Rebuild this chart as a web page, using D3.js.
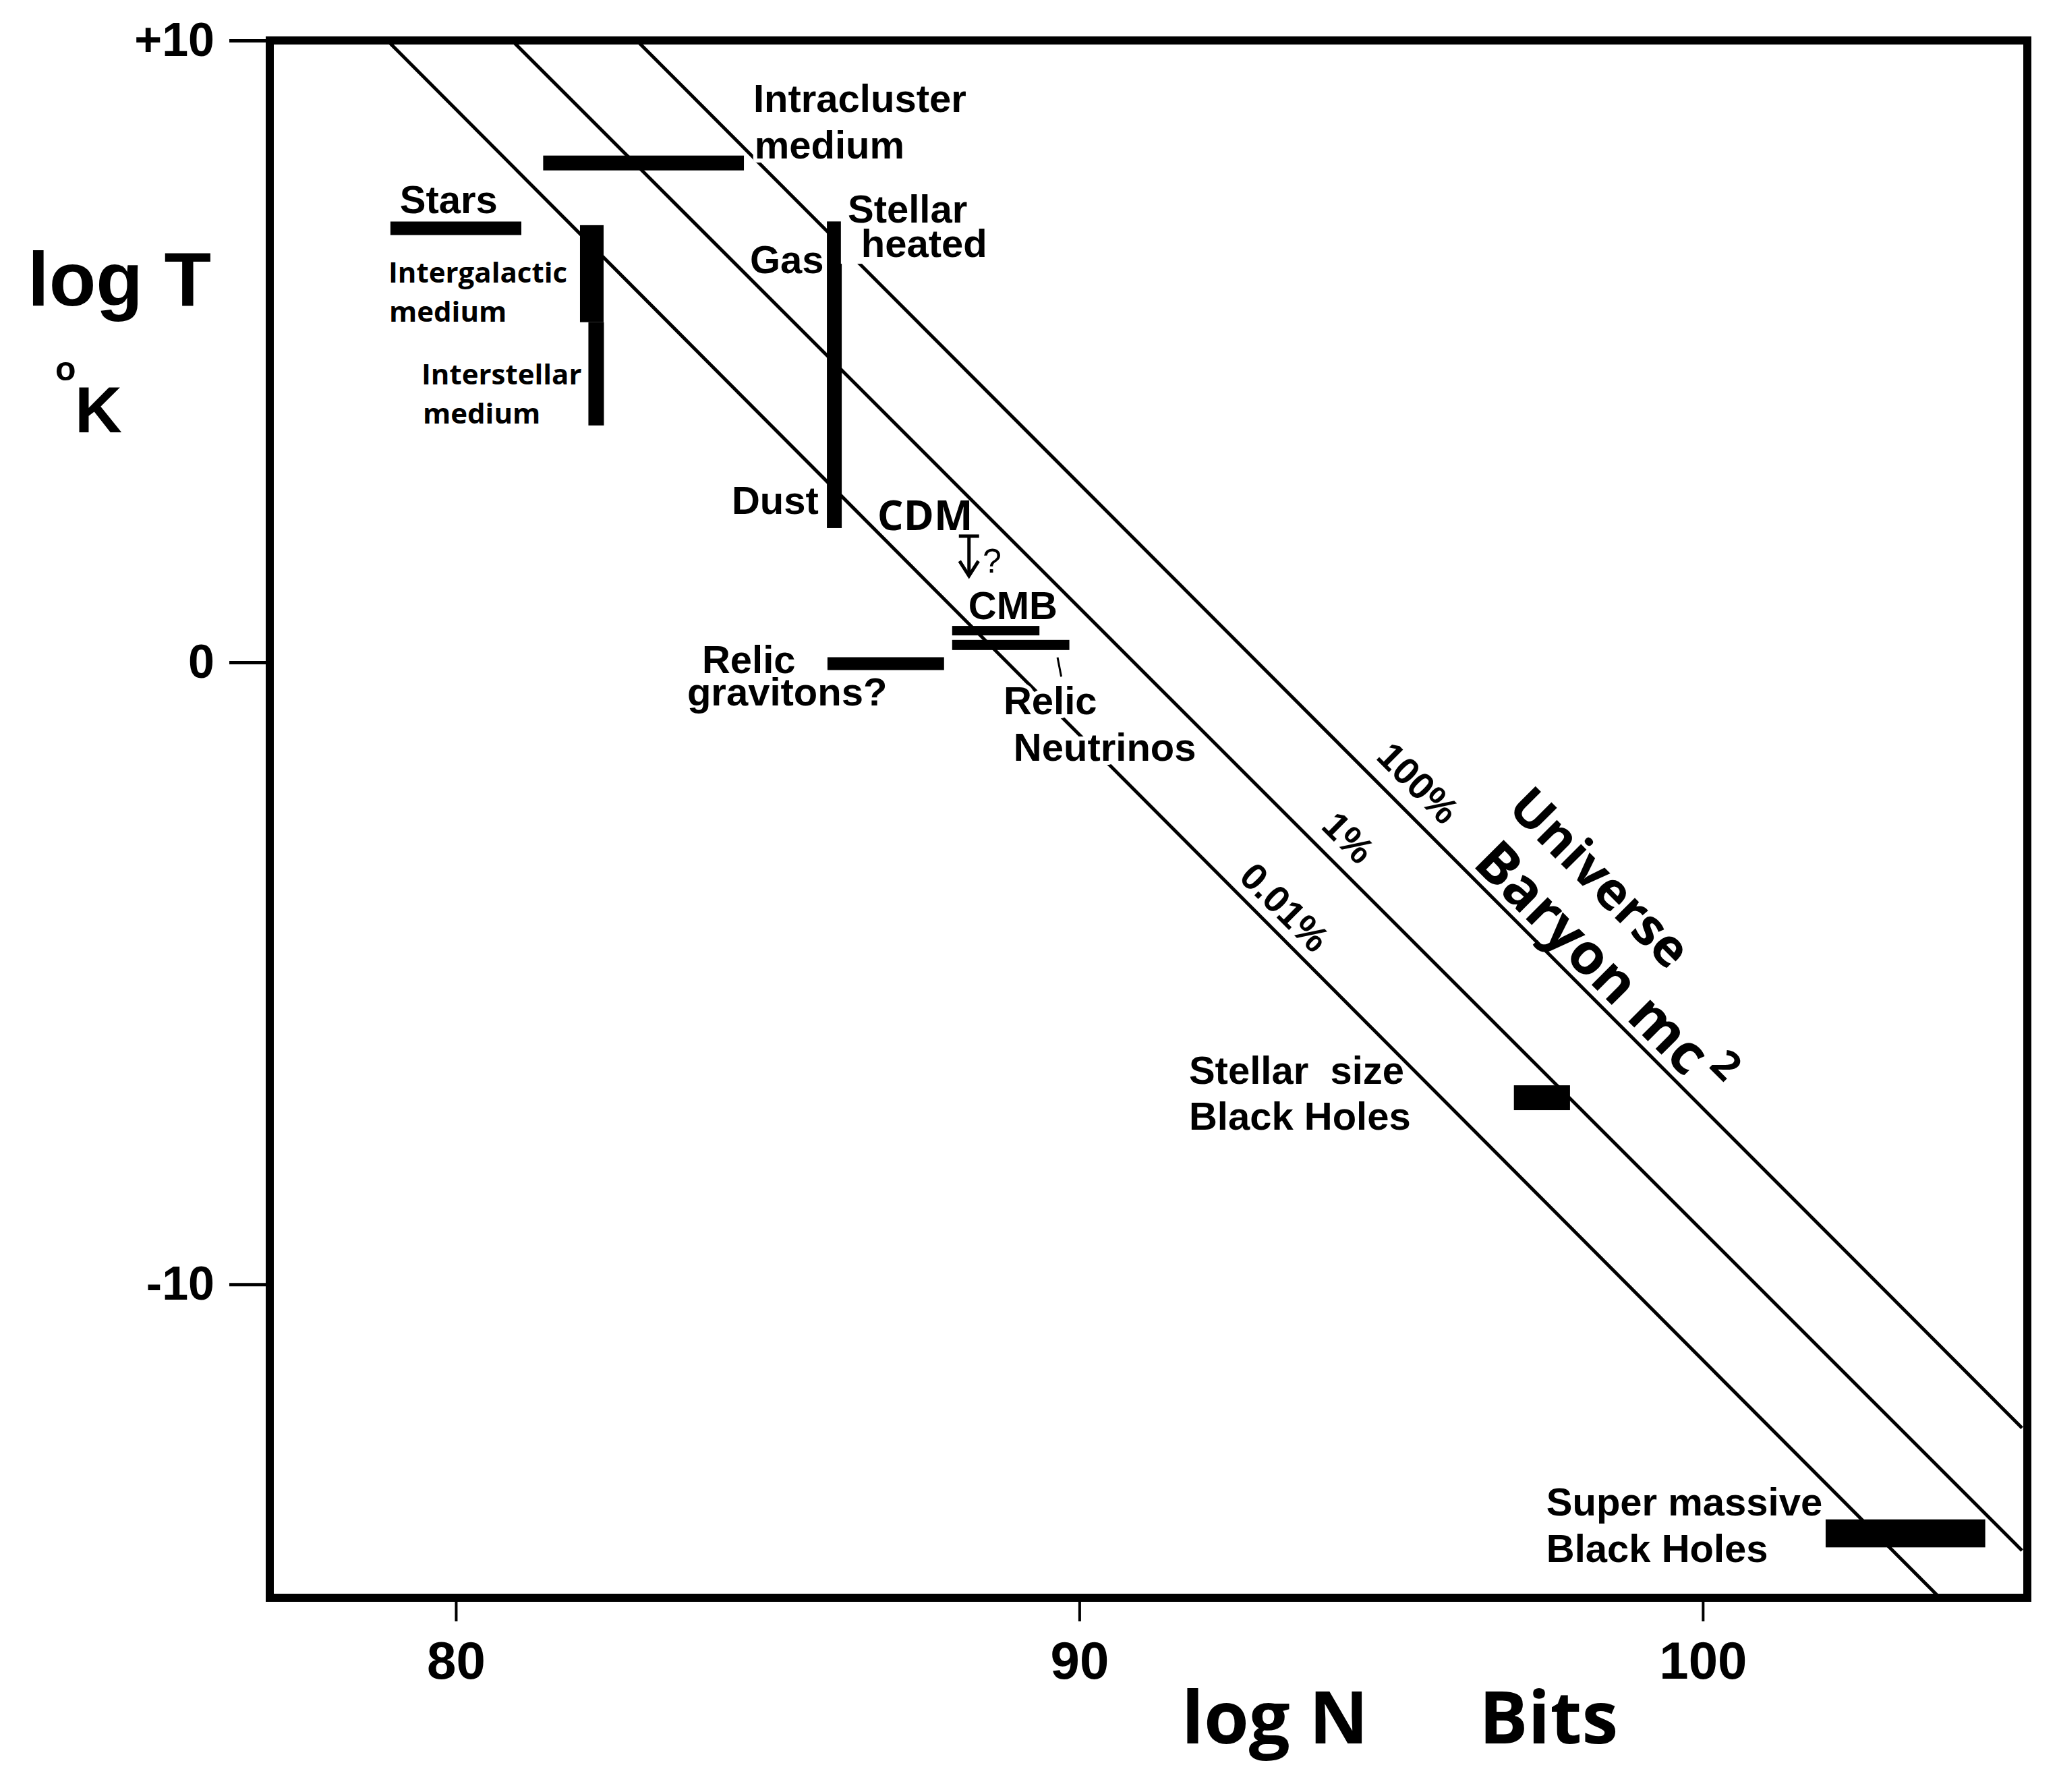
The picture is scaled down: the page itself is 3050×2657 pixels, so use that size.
<!DOCTYPE html>
<html><head><meta charset="utf-8">
<script src="https://cdn.jsdelivr.net/npm/d3@7"></script>
<style>
html,body{margin:0;padding:0;background:#fff;}
svg{display:block;}
</style></head><body>
<svg id="chart" width="3050" height="2657"></svg>
<script>
// ---------------- data ----------------
const xTickValues = [80, 90, 100];
const yTickValues = [10, 0, -10];
const yTickLabels = ["+10", "0", "-10"];

// diagonal lines of constant energy fraction (log N, log T at both ends)
const lineNames  = ["100%", "1%", "0.01%"];
const lineStartN = [82.90, 80.90, 78.90];
const lineStartT = [10, 10, 10];
const lineEndN   = [105.12, 105.12, 103.80];
const lineEndT   = [-12.31, -14.28, -15.04];

// horizontal bars: log N range at a given log T
const hBarNames = ["Intracluster medium", "Stars", "Relic gravitons", "CMB", "Relic neutrinos"];
const hBarN0 = [81.40, 78.95, 85.96, 87.96, 87.96];
const hBarN1 = [84.62, 81.05, 87.83, 89.36, 89.84];
const hBarT  = [8.03, 6.98, -0.02, 0.51, 0.28];

// vertical bars: log T range at a given log N
const vBarNames = ["Intergalactic medium", "Interstellar medium", "Stellar heated gas / dust"];
const vBarN  = [82.18, 82.25, 86.07];
const vBarT0 = [7.03, 5.47, 7.09];
const vBarT1 = [5.47, 3.81, 2.16];

// black hole boxes
const boxNames = ["Stellar size black holes", "Super massive black holes"];
const boxN0 = [96.97, 101.97];
const boxN1 = [97.87, 104.53];
const boxT0 = [-6.80, -13.78];
const boxT1 = [-7.20, -14.23];

// CDM upper-limit arrow and relic neutrino pointer
const cdmArrowN = 88.23, cdmArrowT0 = 2.03, cdmArrowT1 = 1.39;
const pointerN = [89.65, 89.71], pointerT = [0.08, -0.23];

// text annotations (anchor in log N / log T)
const labelText = ["Stars", "Intergalactic", "medium", "Interstellar", "medium",
  "Intracluster", "medium", "Stellar", "heated", "Gas", "Dust", "CDM", "?", "CMB",
  "Relic", "gravitons?", "Relic", "Neutrinos", "Stellar  size", "Black Holes",
  "Super massive", "Black Holes"];
const labelN = [79.10, 78.918, 78.929, 79.448, 79.47,
  84.77, 84.79, 86.285, 86.50, 84.716, 84.424, 86.76, 88.448, 88.22,
  83.948, 83.71, 88.783, 88.945, 91.758, 91.758,
  97.49, 97.49];
const labelT = [7.22, 6.106, 5.477, 4.469, 3.839,
  8.85, 8.102, 7.07, 6.518, 6.258, 2.386, 2.126, 1.443, 0.694,
  -0.174, -0.694, -0.835, -1.583, -6.779, -7.516,
  -13.72, -14.469];
const labelKind = ["b", "s", "s", "s", "s",
  "b", "bh", "bh", "bh", "b", "b", "c", "q", "b",
  "b", "b", "bh", "bh", "b", "b",
  "b", "b"];

// rotated labels along the diagonals
const diagText = ["100%", "1%", "0.01%", "Universe", "Baryon mc"];
const diagN = [94.738, 93.858, 92.539, 96.847, 96.29];
const diagT = [-1.538, -2.655, -3.478, -2.364, -3.254];
const diagKind = ["p", "p", "p", "u", "y"];

// ---------------- layout / styles ----------------
const W = 3050, H = 2657;
const plot = {left: 400, right: 3006, top: 60, bottom: 2369};
const ARIAL = "'Liberation Sans', Arial, sans-serif";
const OPEN = "'Open Sans', 'Noto Sans', sans-serif";
const hBarThick = [22, 20, 19, 14, 15];
const vBarWidth = [35, 23, 22];
const kindStyle = {
  b:  {font: ARIAL, size: 58, weight: 700, halo: false},
  bh: {font: ARIAL, size: 58, weight: 700, halo: true},
  s:  {font: OPEN, size: 42, weight: 700, halo: false},
  c:  {font: OPEN, size: 61, weight: 700, halo: false},
  q:  {font: ARIAL, size: 50, weight: 400, halo: false},
  p:  {font: ARIAL, size: 56, weight: 700, halo: false},
  u:  {font: OPEN, size: 77, weight: 700, halo: false},
  y:  {font: OPEN, size: 84, weight: 700, halo: false}
};

const svg = d3.select("#chart");
svg.append("rect").attr("width", W).attr("height", H).attr("fill", "#fff");

const x = d3.scaleLinear().domain([77.015, 105.205]).range([plot.left, plot.right]);
const y = d3.scaleLinear().domain([10, -15.04]).range([plot.top, plot.bottom]);

svg.append("clipPath").attr("id", "plotClip").append("rect")
  .attr("x", plot.left).attr("y", plot.top)
  .attr("width", plot.right - plot.left).attr("height", plot.bottom - plot.top);

// diagonal lines
const lineGen = d3.line().x(d => x(d[0])).y(d => y(d[1]));
svg.append("g").attr("clip-path", "url(#plotClip)")
  .selectAll("path").data(lineNames.map((n, i) => [[lineStartN[i], lineStartT[i]], [lineEndN[i], lineEndT[i]]]))
  .join("path").attr("d", lineGen).attr("fill", "none").attr("stroke", "#000").attr("stroke-width", 5);

// bars
const marks = svg.append("g");
marks.selectAll("rect.h").data(hBarNames.map((n, i) => i)).join("rect").attr("class", "h")
  .attr("x", i => x(hBarN0[i])).attr("width", i => x(hBarN1[i]) - x(hBarN0[i]))
  .attr("y", i => y(hBarT[i]) - hBarThick[i] / 2).attr("height", i => hBarThick[i]).attr("fill", "#000");
marks.selectAll("rect.v").data(vBarNames.map((n, i) => i)).join("rect").attr("class", "v")
  .attr("x", i => x(vBarN[i]) - vBarWidth[i] / 2).attr("width", i => vBarWidth[i])
  .attr("y", i => y(vBarT0[i])).attr("height", i => y(vBarT1[i]) - y(vBarT0[i])).attr("fill", "#000");
marks.selectAll("rect.b").data(boxNames.map((n, i) => i)).join("rect").attr("class", "b")
  .attr("x", i => x(boxN0[i])).attr("width", i => x(boxN1[i]) - x(boxN0[i]))
  .attr("y", i => y(boxT0[i])).attr("height", i => y(boxT1[i]) - y(boxT0[i])).attr("fill", "#000");

// CDM arrow
const ax = x(cdmArrowN), ay0 = y(cdmArrowT0), ay1 = y(cdmArrowT1);
const arrow = marks.append("g").attr("stroke", "#000").attr("stroke-width", 5).attr("fill", "none");
arrow.append("line").attr("x1", ax - 15).attr("x2", ax + 15).attr("y1", ay0).attr("y2", ay0);
arrow.append("line").attr("x1", ax).attr("x2", ax).attr("y1", ay0).attr("y2", ay1);
arrow.append("path").attr("d", `M${ax - 14},${ay1 - 22}L${ax},${ay1}L${ax + 14},${ay1 - 22}`);
// neutrino pointer
marks.append("line").attr("x1", x(pointerN[0])).attr("y1", y(pointerT[0]))
  .attr("x2", x(pointerN[1])).attr("y2", y(pointerT[1])).attr("stroke", "#000").attr("stroke-width", 3);

// frame
svg.append("rect").attr("x", plot.left).attr("y", plot.top)
  .attr("width", plot.right - plot.left).attr("height", plot.bottom - plot.top)
  .attr("fill", "none").attr("stroke", "#000").attr("stroke-width", 12);

// axes
const yAxis = d3.axisLeft(y).tickValues(yTickValues).tickSize(60).tickPadding(22)
  .tickFormat((d, i) => yTickLabels[i]);
const gy = svg.append("g").attr("transform", `translate(${plot.left},0)`).call(yAxis);
gy.select(".domain").remove();
gy.selectAll(".tick line").attr("stroke", "#000").attr("stroke-width", 5);
gy.selectAll(".tick text").attr("font-family", ARIAL).attr("font-weight", 700)
  .attr("font-size", 70).attr("fill", "#000");

const xAxis = d3.axisBottom(x).tickValues(xTickValues).tickSize(35).tickPadding(30)
  .tickFormat(d3.format("d"));
const gx = svg.append("g").attr("transform", `translate(0,${plot.bottom})`).call(xAxis);
gx.select(".domain").remove();
gx.selectAll(".tick line").attr("stroke", "#000").attr("stroke-width", 4);
gx.selectAll(".tick text").attr("font-family", ARIAL).attr("font-weight", 700)
  .attr("font-size", 78).attr("fill", "#000");

// axis titles
const titles = svg.append("g").attr("fill", "#000");
titles.append("text").attr("x", 41).attr("y", 453).attr("font-family", ARIAL)
  .attr("font-weight", 700).attr("font-size", 114).text("log T");
const kt = titles.append("text").attr("x", 82).attr("y", 564).attr("font-family", ARIAL).attr("font-weight", 700);
kt.append("tspan").attr("font-size", 50).text("o");
kt.append("tspan").attr("x", 111).attr("y", 641).attr("font-size", 97).text("K");
const nt = titles.append("text").attr("x", 1752).attr("y", 2585).attr("font-family", OPEN)
  .attr("font-weight", 700).attr("font-size", 108);
nt.append("tspan").text("log N");
nt.append("tspan").attr("x", 2193).text("Bits");

// annotation labels
const lab = svg.append("g");
const bgLayer = lab.append("g");
labelText.forEach((t, i) => {
  const st = kindStyle[labelKind[i]];
  const el = lab.append("text").attr("x", x(labelN[i])).attr("y", y(labelT[i]))
    .attr("font-family", st.font).attr("font-weight", st.weight).attr("font-size", st.size)
    .attr("fill", "#000").style("white-space", "pre").text(t);
  if (st.halo) {
    el.attr("stroke", "#fff").attr("stroke-width", 12).attr("stroke-linejoin", "round")
      .attr("paint-order", "stroke");
  }
  if (t === "heated") {
    const bb = el.node().getBBox();
    bgLayer.append("rect").attr("x", bb.x - 30).attr("y", bb.y - 8)
      .attr("width", bb.width + 30).attr("height", bb.height + 6).attr("fill", "#fff");
  }
});

// rotated labels
diagText.forEach((t, i) => {
  const st = kindStyle[diagKind[i]];
  const el = lab.append("text")
    .attr("transform", `translate(${x(diagN[i])},${y(diagT[i])}) rotate(45)`)
    .attr("font-family", st.font).attr("font-weight", st.weight).attr("font-size", st.size)
    .attr("fill", "#000");
  el.append("tspan").text(t);
  if (diagKind[i] === "y") {
    el.append("tspan").attr("dx", 12).attr("dy", -36).attr("font-size", 60).text("2");
  }
});
</script>
</body></html>
